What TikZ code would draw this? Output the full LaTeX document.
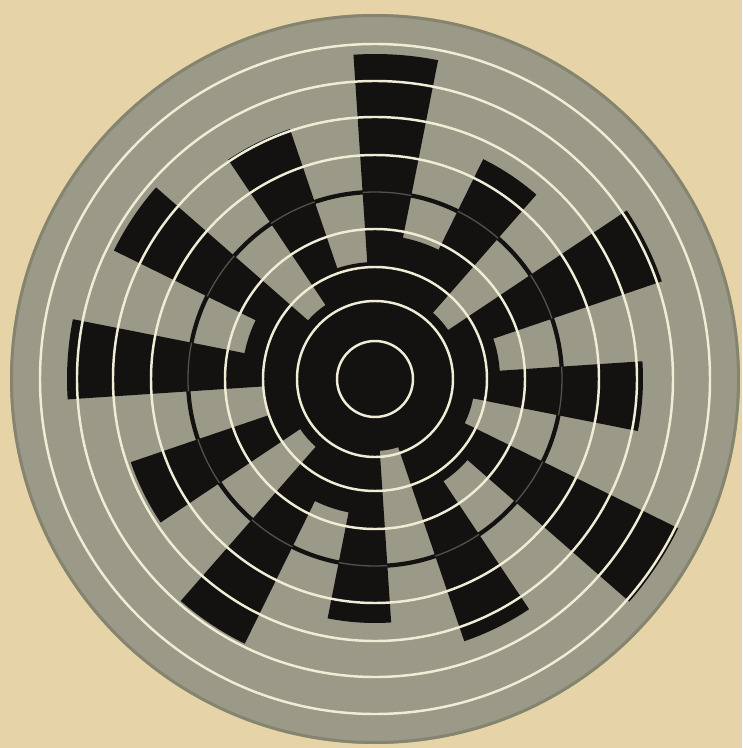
\documentclass[tikz,border=0pt]{standalone}

\definecolor{paper}{HTML}{E6D4A8}
\definecolor{disc}{HTML}{9B9A88}
\definecolor{discrim}{HTML}{85846F}
\definecolor{ink}{HTML}{131210}
\definecolor{chalk}{HTML}{F1ECD6}
\definecolor{seam}{HTML}{52514A}

% the black part of the disc: one closed outline, sector by sector,
% each 15 degrees wide, with the radius at which the black stops
\newcommand{\inkpath}{%
  (-11.2:268)
  \foreach \r [count=\s from 0] in
    {268,125,303,88,245,144,325,117,264,89,291,133,
     308,112,258,90,295,136,244,72,277,123,338,100}
    { -- ({15*\s-11.2}:\r) arc[start angle={15*\s-11.2}, delta angle=15, radius=\r] }
  -- cycle}

\begin{document}
\begin{tikzpicture}[
  x=0.03cm, y=0.03cm,
  line join=round, line cap=round,
  circ/.style={chalk, line width=2.1pt},
  joint/.style={ink, line width=3.6pt},
]
\useasboundingbox (-375,-369) rectangle (367,379);

% ── the page ──────────────────────────────────────────────────────────────
\fill[paper] (-375,-369) rectangle (367,379);

% ── the grey disc ─────────────────────────────────────────────────────────
\fill[disc] (0,0) circle (365);
\draw[discrim, line width=2.5pt] (0,0) circle (363.5);

% ── black spokes and core ─────────────────────────────────────────────────
\fill[ink] \inkpath;

% ── the joint between inner and outer ring ────────────────────────────────
\draw[joint] (0,0) circle (187);
\begin{scope}
  \clip \inkpath;
  \draw[seam, line width=1.1pt] (0,0) circle (187);
\end{scope}

% ── white circles ─────────────────────────────────────────────────────────
\foreach \r in {38,78,112,150,224,262,298,335} { \draw[circ] (0,0) circle (\r); }

\end{tikzpicture}
\end{document}
